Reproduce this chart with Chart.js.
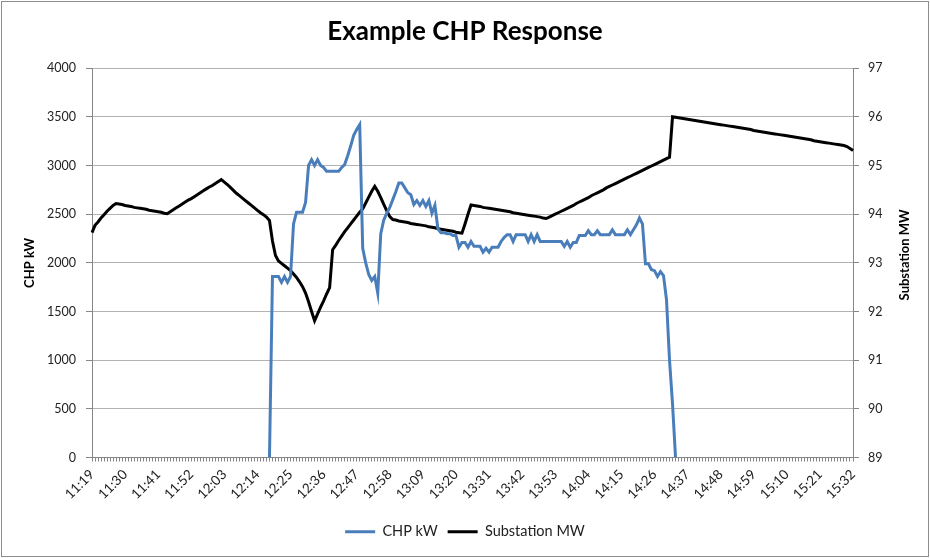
<!DOCTYPE html>
<html>
<head>
<meta charset="utf-8">
<title>Example CHP Response</title>
<script src="https://cdn.jsdelivr.net/npm/chart.js@4.4.1/dist/chart.umd.min.js"></script>
<style>
  html, body { margin: 0; padding: 0; background: #fff; }
</style>
</head>
<body>
<canvas id="chart1" width="930" height="558"></canvas>
<script>
// one reading per minute, first category is 11:19
var startTime = "11:19";
var minuteCount = 254;
var labelEvery = 11;

// CHP kW starts at 12:18 (index 59), nothing logged before or after
var chpStart = 59;
var chpKW = [
  0, 1860, 1860, 1860, 1800, 1860, 1800, 1860, 2400, 2520,
  2520, 2520, 2620, 3000, 3060, 3000, 3060, 3000, 2980, 2940,
  2940, 2940, 2940, 2940, 2980, 3010, 3100, 3200, 3310, 3370,
  3420, 2150, 2000, 1880, 1820, 1860, 1690, 2300, 2440, 2510,
  2570, 2650, 2730, 2820, 2820, 2770, 2720, 2700, 2600, 2640,
  2590, 2640, 2580, 2640, 2510, 2590, 2350, 2310, 2310, 2300,
  2300, 2280, 2280, 2160, 2210, 2210, 2160, 2220, 2170, 2170,
  2170, 2110, 2150, 2110, 2160, 2160, 2160, 2220, 2260, 2290,
  2290, 2220, 2290, 2290, 2290, 2290, 2220, 2290, 2220, 2290,
  2220, 2220, 2220, 2220, 2220, 2220, 2220, 2220, 2170, 2220,
  2160, 2210, 2210, 2280, 2280, 2280, 2330, 2290, 2290, 2330,
  2290, 2290, 2290, 2290, 2340, 2290, 2290, 2290, 2290, 2340,
  2290, 2340, 2390, 2460, 2400, 1990, 1990, 1930, 1920, 1860,
  1910, 1870, 1620, 1000, 550, 0
];

var substationMW = [
  93.62, 93.77, 93.84, 93.92, 93.99, 94.06, 94.12, 94.18, 94.22, 94.21,
  94.20, 94.18, 94.17, 94.16, 94.14, 94.13, 94.12, 94.11, 94.10, 94.08,
  94.07, 94.06, 94.05, 94.04, 94.02, 94.01, 94.05, 94.09, 94.13, 94.17,
  94.21, 94.25, 94.29, 94.32, 94.36, 94.40, 94.44, 94.48, 94.52, 94.56,
  94.59, 94.63, 94.67, 94.71, 94.66, 94.61, 94.55, 94.49, 94.43, 94.38,
  94.33, 94.28, 94.23, 94.18, 94.13, 94.08, 94.03, 93.99, 93.94, 93.87,
  93.45, 93.15, 93.04, 92.99, 92.94, 92.89, 92.84, 92.77, 92.70, 92.61,
  92.51, 92.38, 92.20, 92.00, 91.81, 91.95, 92.09, 92.22, 92.36, 92.49,
  93.27, 93.36, 93.46, 93.55, 93.64, 93.72, 93.80, 93.88, 93.96, 94.04,
  94.11, 94.23, 94.35, 94.47, 94.57, 94.47, 94.34, 94.20, 94.07, 93.95,
  93.89, 93.88, 93.86, 93.85, 93.84, 93.83, 93.81, 93.80, 93.79, 93.78,
  93.77, 93.76, 93.74, 93.73, 93.72, 93.70, 93.69, 93.68, 93.67, 93.66,
  93.65, 93.63, 93.62, 93.61, 93.80, 94.00, 94.19, 94.18, 94.17, 94.16,
  94.14, 94.13, 94.12, 94.11, 94.10, 94.09, 94.08, 94.07, 94.06, 94.05,
  94.03, 94.02, 94.01, 94.00, 93.99, 93.98, 93.97, 93.96, 93.95, 93.94,
  93.92, 93.91, 93.94, 93.97, 94.00, 94.03, 94.06, 94.09, 94.12, 94.15,
  94.18, 94.22, 94.25, 94.28, 94.31, 94.34, 94.38, 94.41, 94.44, 94.47,
  94.50, 94.54, 94.57, 94.60, 94.63, 94.66, 94.69, 94.72, 94.75, 94.78,
  94.81, 94.84, 94.87, 94.90, 94.93, 94.96, 94.99, 95.02, 95.05, 95.08,
  95.11, 95.14, 95.17, 96.00, 95.99, 95.98, 95.97, 95.96, 95.95, 95.94,
  95.93, 95.92, 95.91, 95.90, 95.89, 95.88, 95.87, 95.86, 95.85, 95.84,
  95.83, 95.82, 95.81, 95.80, 95.79, 95.78, 95.77, 95.76, 95.75, 95.74,
  95.72, 95.71, 95.70, 95.69, 95.68, 95.67, 95.66, 95.65, 95.64, 95.63,
  95.62, 95.61, 95.60, 95.59, 95.58, 95.57, 95.56, 95.55, 95.54, 95.53,
  95.51, 95.50, 95.49, 95.48, 95.47, 95.46, 95.45, 95.44, 95.43, 95.42,
  95.41, 95.39, 95.35, 95.31
];

var kwRange = [0, 4000, 500];
var mwRange = [89, 97, 1];

// minute labels 11:19, 11:20 ...
function buildLabels(){
  var p = startTime.split(":");
  var t0 = parseInt(p[0], 10) * 60 + parseInt(p[1], 10);
  var out = [];
  for (var i = 0; i < minuteCount; i++) {
    var t = t0 + i;
    var mm = t % 60;
    out.push(Math.floor(t / 60) + ":" + (mm < 10 ? "0" + mm : mm));
  }
  return out;
}

function buildChp(){
  var out = [];
  for (var i = 0; i < minuteCount; i++) {
    var k = i - chpStart;
    out.push(k >= 0 && k < chpKW.length ? chpKW[k] : null);
  }
  return out;
}

var labels = buildLabels();
var tickFont = { family: "Lato", size: 12.5 };
var axisGrey = "#868686";

// white page + thin grey frame round the whole chart
var frame = {
  id: "frame",
  beforeDraw: function(chart){
    var ctx = chart.ctx;
    ctx.save();
    ctx.fillStyle = "#fff";
    ctx.fillRect(0, 0, chart.width, chart.height);
    ctx.strokeStyle = "#8c8c8c";
    ctx.lineWidth = 1;
    ctx.strokeRect(1.5, 1.5, chart.width - 3, chart.height - 3);
    ctx.restore();
  }
};

// both axis titles read bottom to top, like the original
var axisTitles = {
  id: "axisTitles",
  afterDraw: function(chart){
    var ctx = chart.ctx;
    var a = chart.chartArea;
    var midY = (a.top + a.bottom) / 2;
    ctx.save();
    ctx.fillStyle = "#000";
    ctx.font = "bold 13px Lato";
    ctx.textAlign = "center";
    ctx.textBaseline = "middle";
    ctx.translate(30, midY);
    ctx.rotate(-Math.PI / 2);
    ctx.fillText("CHP kW", 0, 0);
    ctx.restore();
    ctx.save();
    ctx.fillStyle = "#000";
    ctx.font = "bold 13px Lato";
    ctx.textAlign = "center";
    ctx.textBaseline = "middle";
    ctx.translate(905, midY - 8);
    ctx.rotate(-Math.PI / 2);
    ctx.fillText("Substation MW", 0, 0);
    ctx.restore();
  }
};

var ctx = document.getElementById("chart1").getContext("2d");
var myChart = new Chart(ctx, {
  type: "line",
  data: {
    labels: labels,
    datasets: [{
      label: "CHP kW",
      data: buildChp(),
      borderColor: "#4a7ebb",
      backgroundColor: "#4a7ebb",
      borderWidth: 3,
      pointRadius: 0,
      tension: 0,
      yAxisID: "y"
    }, {
      label: "Substation MW",
      data: substationMW,
      borderColor: "#000000",
      backgroundColor: "#000000",
      borderWidth: 3,
      pointRadius: 0,
      tension: 0,
      yAxisID: "y1"
    }]
  },
  options: {
    responsive: false,
    animation: false,
    layout: { padding: { left: 0, right: 0, top: 0, bottom: 9 } },
    plugins: {
      title: {
        display: true,
        text: "Example CHP Response",
        color: "#000",
        font: { family: "Lato", size: 26, weight: "bold" },
        padding: { top: 16, bottom: 21 }
      },
      legend: {
        position: "bottom",
        labels: {
          usePointStyle: true,
          pointStyle: "line",
          pointStyleWidth: 30,
          color: "#222",
          font: { family: "Lato", size: 14.5 },
          padding: 10
        }
      },
      tooltip: { enabled: false }
    },
    scales: {
      x: {
        offset: false,
        afterFit: function(s){ s.height = 57; },
        grid: { drawOnChartArea: false, drawTicks: true, tickLength: 4, color: axisGrey },
        border: { color: axisGrey },
        ticks: {
          autoSkip: false,
          minRotation: 45,
          maxRotation: 45,
          padding: 5,
          color: "#222",
          font: { family: "Lato", size: 13.5 },
          callback: function(v, i){ return i % labelEvery === 0 ? labels[i] : ""; }
        }
      },
      y: {
        position: "left",
        min: kwRange[0],
        max: kwRange[1],
        afterFit: function(s){ s.width = 92; },
        grid: { color: "#b3b3b3", tickColor: axisGrey, tickLength: 6 },
        border: { color: axisGrey },
        ticks: {
          stepSize: kwRange[2],
          padding: 10,
          color: "#222",
          font: tickFont,
          callback: function(v){ return String(v); }
        }
      },
      y1: {
        position: "right",
        min: mwRange[0],
        max: mwRange[1],
        afterFit: function(s){ s.width = 77; },
        grid: { drawOnChartArea: false, tickColor: axisGrey, tickLength: 6 },
        border: { color: axisGrey },
        ticks: {
          stepSize: mwRange[2],
          padding: 9,
          color: "#222",
          font: tickFont,
          callback: function(v){ return String(v); }
        }
      }
    }
  },
  plugins: [frame, axisTitles]
});
</script>
</body>
</html>
